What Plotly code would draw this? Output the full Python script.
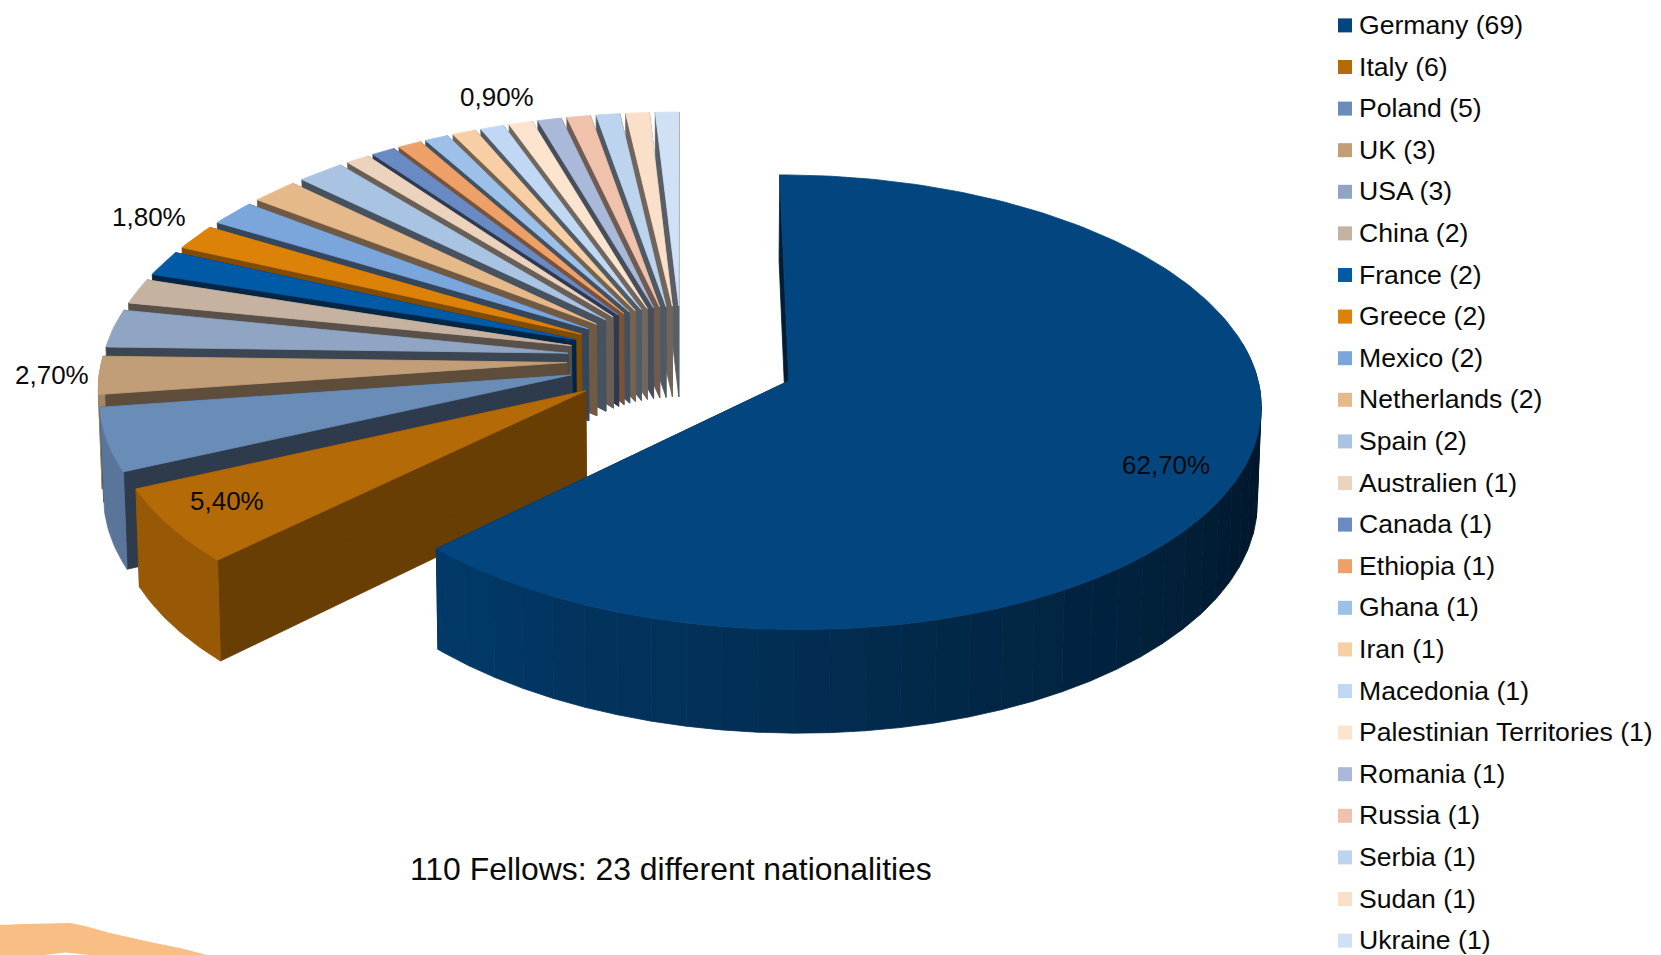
import math
import plotly.graph_objects as go

countries = ["Germany", "Italy", "Poland", "UK", "USA", "China", "France", "Greece", "Mexico",
             "Netherlands", "Spain", "Australien", "Canada", "Ethiopia", "Ghana", "Iran", "Macedonia",
             "Palestinian Territories", "Romania", "Russia", "Serbia", "Sudan", "Ukraine"]
fellows = [69, 6, 5, 3, 3, 2, 2, 2, 2, 2, 2, 1, 1, 1, 1, 1, 1, 1, 1, 1, 1, 1, 1]
colors = ["#03467F", "#B46A06", "#6A8DB7", "#C19E78", "#8FA5C3", "#C6B2A1", "#005AA6", "#DC8209",
          "#7BA6DC", "#E6B98A", "#A9C4E3", "#EBD3BE", "#6A8AC4", "#EDA168", "#9CC0E8", "#F8CFA4",
          "#C0D8F3", "#FCE4CF", "#AAB9D9", "#F0C2AC", "#BDD4EF", "#FADFC9", "#D0E0F5"]
label_texts = ["62,70%", "5,40%", "2,70%", "1,80%", "0,90%"]
label_x = [1166, 227, 52, 149, 497]
label_y = [465, 501, 375, 217, 97]
title_text = "110 Fellows: 23 different nationalities"

CX, CY, RAD, TILT, FOCAL, EXPLODE, DEPTH = 682.0, 359.4, 465.0, 0.476, 5000.0, 115.0, 93.0
LEG_SWATCH_X, LEG_TEXT_X, LEG_TOP, LEG_PITCH, LEG_TEXT_DY = 1345.0, 1359.0, 25.4, 41.6, 2.0
total = sum(fellows)


def project(x, y, z=0.0):
    s = 1.0 / (1.0 - y / FOCAL)
    k = 1.0 - 0.00007 * z
    return CX + x * s * k, CY + TILT * y * s + z * s


def rgb(hex_color):
    return tuple(int(hex_color[i:i + 2], 16) for i in (1, 3, 5))


def shade(hex_color, f):
    r, g, b = rgb(hex_color)
    return f"rgb({round(r * f)},{round(g * f)},{round(b * f)})"


def wall_factor(hex_color):
    r, g, b = rgb(hex_color)
    return 0.42 + 0.17 * (r - b) / r if r > b else 0.42


def polygon(points, color):
    xs, ys = zip(*points)
    return go.Scatter(x=list(xs) + [xs[0]], y=list(ys) + [ys[0]], mode="lines", fill="toself",
                      fillcolor=color, line=dict(color=color, width=0.8), hoverinfo="skip",
                      showlegend=False)


def rim_factor(deg):
    return max(0.3, min(0.84, 0.3 + (deg - 95.0) / 130.0 * 0.52))


fig = go.Figure()
slices = []
start = 0.0
for name, val, col in zip(countries, fellows, colors):
    sweep = val / total * 360.0
    slices.append((name, start, start + sweep, col))
    start += sweep

for name, a0, a1, col in reversed(slices):
    mid = math.radians((a0 + a1) / 2)
    ox, oy = EXPLODE * math.sin(mid), -EXPLODE * math.cos(mid)
    n = max(6, int((a1 - a0)))
    angles = [a0 + (a1 - a0) * i / n for i in range(n + 1)]
    edge = [(ox + RAD * math.sin(math.radians(a)), oy - RAD * math.cos(math.radians(a))) for a in angles]
    wall = shade(col, wall_factor(col))
    for ex, ey in (edge[0], edge[-1]):
        fig.add_trace(polygon([project(ox, oy), project(ex, ey), project(ex, ey, DEPTH), project(ox, oy, DEPTH)], wall))
    # outer rim, only where it faces the viewer; the big slice is shaded in bands
    band = 4 if a1 - a0 > 100 else n
    for i in range(0, n, band):
        j = min(n, i + band)
        am = (angles[i] + angles[j]) / 2
        if 80 <= am <= 272:
            top = [project(*p) for p in edge[i:j + 1]]
            bot = [project(*p, DEPTH) for p in edge[i:j + 1]]
            fig.add_trace(polygon(top + bot[::-1], shade(col, rim_factor(am))))
    fig.add_trace(polygon([project(ox, oy)] + [project(ex, ey) for ex, ey in edge], col))

# key: one square and one text per country
rows = [LEG_TOP + LEG_PITCH * i for i in range(len(countries))]
key_labels = [f"{name} ({val})" for name, val in zip(countries, fellows)]
fig.add_trace(go.Scatter(x=[LEG_SWATCH_X] * len(rows), y=rows, mode="markers", showlegend=False,
                         marker=dict(symbol="square", size=14, color=colors), hoverinfo="skip"))
fig.add_trace(go.Scatter(x=[LEG_TEXT_X] * len(rows), y=[r + LEG_TEXT_DY for r in rows], mode="text",
                         text=key_labels, textposition="middle right", showlegend=False, hoverinfo="skip",
                         textfont=dict(size=26.6, color="#0a0a0a", family="Liberation Sans")))

annotations = [dict(x=x, y=y, text=t, showarrow=False, xref="x", yref="y",
                    font=dict(size=26, color="#0a0a0a", family="Liberation Sans"))
               for t, x, y in zip(label_texts, label_x, label_y)]
annotations.append(dict(x=671, y=869, text=title_text, showarrow=False, xref="x", yref="y",
                        font=dict(size=31.9, color="#0a0a0a", family="Liberation Sans")))

swoosh = ("M0,925 L25,924 L70,923 L85,926 L110,933 L150,942 L180,948 L207,955 "
          "L90,955 L65,952.5 L45,955 L0,955 Z")

fig.update_layout(
    width=1661, height=955, autosize=False,
    margin=dict(l=0, r=0, t=0, b=0),
    paper_bgcolor="white", plot_bgcolor="white",
    xaxis=dict(range=[0, 1661], visible=False, fixedrange=True),
    yaxis=dict(range=[955, 0], visible=False, fixedrange=True),
    annotations=annotations,
    shapes=[dict(type="path", path=swoosh, xref="x", yref="y", fillcolor="#F8BE86", line=dict(width=0), layer="below")],
    hovermode=False,
    showlegend=False,
)
fig.write_html("out.html", config={"displayModeBar": False},
               post_script="document.body.style.margin='0';document.body.style.overflow='hidden';")
